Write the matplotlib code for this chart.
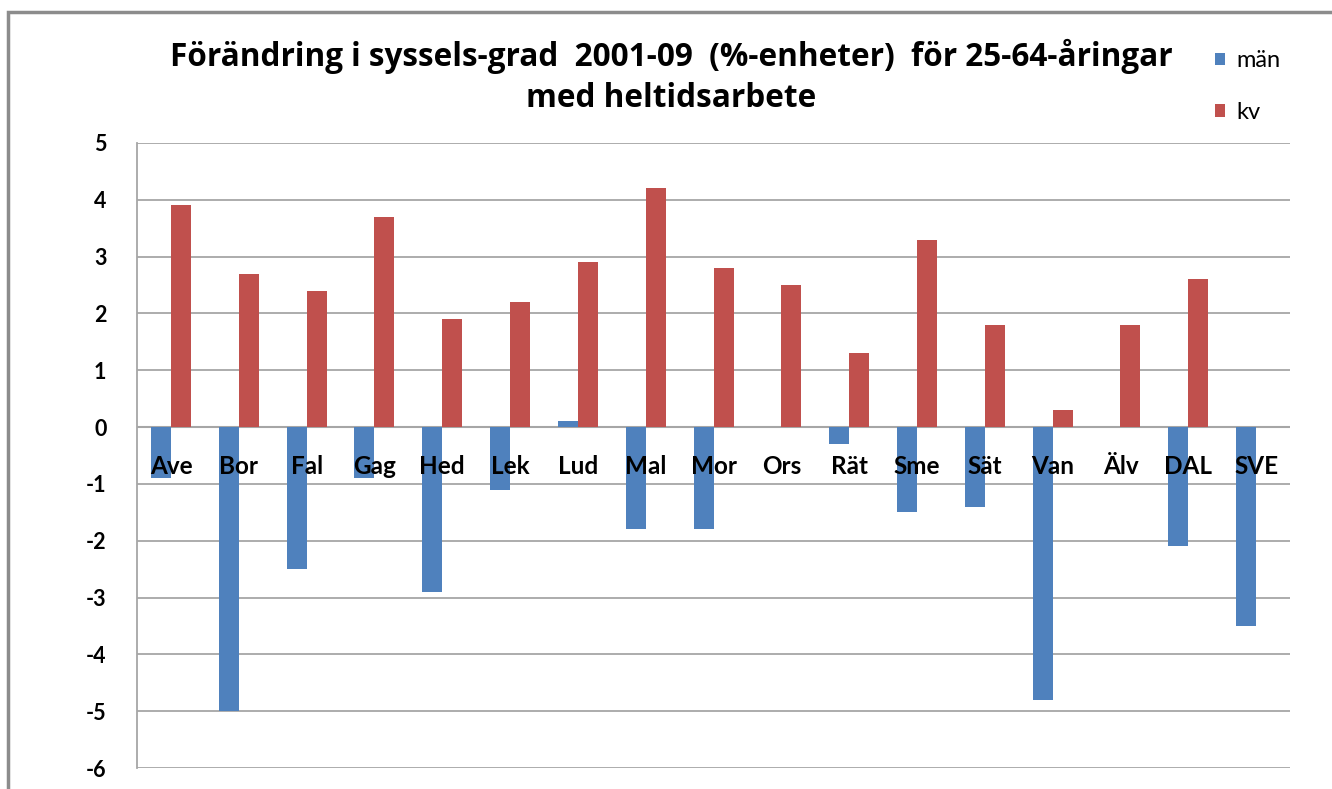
import numpy as np
import matplotlib.pyplot as plt
from matplotlib.patches import Rectangle

plt.rcParams['font.family'] = ['Lato', 'DejaVu Sans']
plt.rcParams['axes.unicode_minus'] = False

kommuner = ["Ave", "Bor", "Fal", "Gag", "Hed", "Lek", "Lud", "Mal", "Mor",
            "Ors", "Rät", "Sme", "Sät", "Van", "Älv", "DAL", "SVE"]
man = [-0.9, -5.0, -2.5, -0.9, -2.9, -1.1, 0.1, -1.8, -1.8,
       0.0, -0.3, -1.5, -1.4, -4.8, 0.0, -2.1, -3.5]
kv = [3.9, 2.7, 2.4, 3.7, 1.9, 2.2, 2.9, 4.2, 2.8,
      2.5, 1.3, 3.3, 1.8, 0.3, 1.8, 2.6, 0.0]
yticks = list(range(-6, 6))

blue = "#4F81BD"
red = "#C0504D"
grid = "#A6A6A6"

fig = plt.figure(figsize=(13.32, 7.89), dpi=100)
ax = fig.add_axes([0.1029, 0.0266, 0.8656, 0.7922])

x = np.arange(len(kommuner))
w = 0.295
ax.bar(x - w / 2, man, w, color=blue, label="män", zorder=2)
ax.bar(x + w / 2, kv, w, color=red, label="kv", zorder=2)

ax.set_xlim(-0.5, len(kommuner) - 0.5)
ax.set_ylim(-6, 5)
ax.set_yticks(yticks)
ax.set_yticklabels([str(t) for t in yticks], fontsize=15.5, fontweight="bold")
ax.tick_params(axis="y", length=0, pad=22)
ax.yaxis.grid(True, color=grid, linewidth=1.3, zorder=0)
ax.set_axisbelow(True)

for s in ["top", "right", "bottom"]:
    ax.spines[s].set_visible(False)
ax.spines["left"].set_color(grid)
ax.spines["left"].set_linewidth(1.3)
ax.axhline(0, color=grid, linewidth=1.5, zorder=1.5)

# kategorietiketter strax under nollinjen, ovanpå staplarna
ax.set_xticks([])
for i, name in enumerate(kommuner):
    ax.annotate(name, xy=(i, 0), xytext=(0, -28.5), textcoords="offset points",
                ha="center", va="center", fontsize=17.5, fontweight="bold",
                zorder=5)

titel = ["Förändring i syssels-grad  2001-09  (%-enheter)  för 25-64-åringar",
         "med heltidsarbete"]
fig.text(0.504, 0.928, titel[0], ha="center", va="center", fontsize=22.7,
         fontweight="bold", family=["Open Sans", "DejaVu Sans"])
fig.text(0.504, 0.875, titel[1], ha="center", va="center", fontsize=22.7,
         fontweight="bold", family=["Open Sans", "DejaVu Sans"])

leg = fig.legend(loc="upper left", bbox_to_anchor=(0.896, 0.963), frameon=False,
                 fontsize=17, handlelength=0.45, handleheight=0.45,
                 labelspacing=1.3, handletextpad=0.45)

# ram runt diagrammet
fig.patches.append(Rectangle((0.006, -0.05), 1.1, 1.035, transform=fig.transFigure,
                             fill=False, edgecolor="#8C8C8C", linewidth=2.5))

fig.savefig("out.png", dpi=100)
